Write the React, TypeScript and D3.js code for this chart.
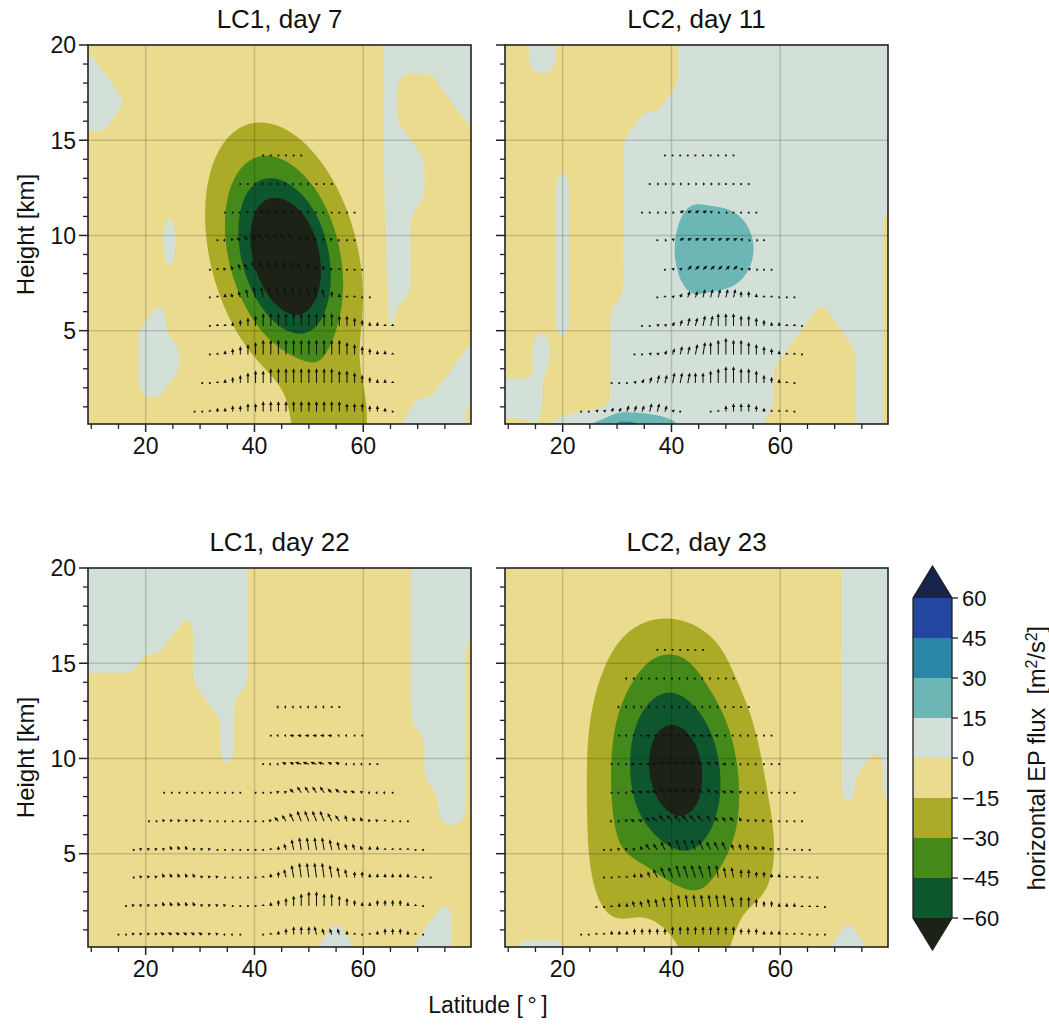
import React, { useMemo } from "react";
import * as d3 from "d3";

// colour levels of the horizontal EP flux [m2/s2]
const levels = [-60, -45, -30, -15, 0, 15, 30, 45, 60];
const fills = ["#1c2316", "#0e572e", "#45891b", "#acab28", "#ebdb8f", "#d2e0d8", "#6cb7b5", "#2a87a8", "#2346a0", "#16234b"];
const cbarTicks = [60, 45, 30, 15, 0, -15, -30, -45, -60];

const xTicks = [20, 40, 60];
const xMinor = [10, 15, 25, 30, 35, 45, 50, 55, 65, 70, 75];
const yTicks = [5, 10, 15, 20];
const yMinor = [1, 2, 3, 4, 6, 7, 8, 9, 11, 12, 13, 14, 16, 17, 18, 19];
const xGrid = [20, 40, 60];
const yGrid = [5, 10, 15];

// weak background sign field: "." slightly negative, "+" slightly positive
// columns 10..80 deg every 2.5 deg, rows 20 km down to 0 km
const lc1d7Grid = [
  ".........." + ".........." + "..+++++++",
  "+........." + ".........." + "..+++++++",
  "++........" + ".........." + "..+...+++",
  "+++......." + ".........." + "..+....++",
  "++........" + ".........." + "..+.....+",
  ".........." + ".........." + "..++.....",
  ".........." + ".........." + "..+++....",
  ".........." + ".........." + "..+++....",
  ".........." + ".........." + "..+++....",
  ".........." + ".........." + "..++....+",
  ".........." + ".........." + "..++.....",
  ".........." + ".........." + "..++.....",
  ".........." + ".........." + "..++.....",
  ".........." + ".........." + "..++.....",
  ".....+...." + ".........." + "..+......",
  "....++...." + ".........." + "..+......",
  "....+++..." + ".........." + "........+",
  "....+++..." + ".........." + ".......++",
  "....++...." + ".........." + "......+++",
  ".........." + ".........." + "....++++.",
  ".........." + ".........." + "...+++++.",
];
const lc2d11Grid = [
  "..++.........+++++++" + "+++++++++",
  "..++.........+++++++" + "+++++++++",
  ".............+++++++" + "+++++++++",
  "............++++++++" + "++++++++.",
  "..........++++++++++" + "+++++++++",
  ".........+++++++++++" + "+++++++++",
  ".........+++++++++++" + "+++++++++",
  "....+....+++++++++++" + "+++++++++",
  "....+....+++++++++++" + "+++++++++",
  "....+....+++++++++++" + "++++++++.",
  "....+....+++++++++++" + "++++++++.",
  "....+....+++++++++++" + "++++++++.",
  "....+....+++++++++++" + "++++++++.",
  "....+....+++++++++++" + "++++++++.",
  "....+...++++++++++++" + "+++.++++.",
  "....+...++++++++++++" + "++...+++.",
  "........++++++++++++" + "+.....++.",
  "........++++++++++++" + "......++.",
  "+++.....++++++++++++" + "......++.",
  "+++.....++++++++++++" + "......++.",
  "........+++++++++++." + "......++.",
];
const lc1d22Grid = [
  "++++++++++++........" + "....+++++",
  "++++++++++++........" + "....+++++",
  "++++++++++++........" + "....+++++",
  "+++++++.++++........" + "....+++++",
  "++++++..++++........" + "....++++.",
  "++++....++++........" + "....++++.",
  "........++++........" + "....++++.",
  ".........++........." + "....++++.",
  "..........+........." + "....++++.",
  "..........+........." + ".....+++.",
  "..........+........." + ".....+++.",
  "...................." + ".....+++.",
  "...................." + "......++.",
  "...................." + "......++.",
  "...................." + ".........",
  "...................." + ".........",
  "...................." + ".........",
  "...................." + ".........",
  "...................." + "......+..",
  "..................+." + ".....++..",
  ".................+++" + "....+++..",
];
const lc2d23Grid = [
  "...................." + ".....++++",
  "...................." + ".....++++",
  "...................." + ".....++++",
  "...................." + ".....++++",
  "...................." + ".....++++",
  "...................." + ".....++++",
  "...................." + ".....++++",
  "...................." + ".....++++",
  "...................." + ".....++++",
  "...................." + ".....++++",
  "...................." + ".....++.+",
  "...................." + ".....+..+",
  "...................." + ".....+..+",
  "...................." + ".........",
  "...................." + ".........",
  "...................." + ".........",
  "...................." + ".........",
  "...................." + ".........",
  "...................." + ".........",
  "...................." + ".....+...",
  ".++++..............." + "....+++..",
];

// strong features: [lat, height km, peak value, lat width, height width, tilt]
const lc1d7Blobs = [
  [45.4, 9.0, -80, 7.1, 3.4, -0.3],
  [48.5, 8.6, -10, 3.0, 1.8, 0],
  [54.0, 0.0, -22, 5.0, 2.2, 0],
  [24.4, 9.7, 12, 0.9, 1.0, 0],
];
const lc2d11Blobs = [
  [48.5, 9.3, 19, 5.8, 1.9, 0],
  [43.5, 9.2, 6, 2.2, 2.2, 0],
  [31.0, 0.0, 28, 7.0, 0.5, 0],
  [16.0, 3.8, 12, 1.2, 0.8, 0],
];
const lc1d22Blobs: number[][] = [];
const lc2d23Blobs = [
  [40.8, 9.5, -65, 8.2, 3.9, -0.15],
  [46.5, 0.0, -10, 4.0, 2.0, 0],
  [43.5, 3.5, -6, 8.0, 2.5, 0],
  [29.0, 4.5, -11, 4.0, 3.0, 0],
  [57.0, 4.5, -6, 3.5, 2.5, 0],
  [41.0, 15.5, -5, 6.0, 1.2, 0],
];

// EP flux arrows per model level: [height km, first lat index, vertical, horizontal]
// lat index k -> 9.4 + 1.4 k deg; v digits up, u: c b a = left 3 2 1, 1 2 3 = right
const lc1d7Arrows: [number, number, string, string][] = [
  [0.75, 14, "001223344555555555554443320", ""],
  [2.25, 15, "00123456677777777766543221", ""],
  [3.75, 16, "0123456777777777776543221", ""],
  [5.25, 16, "0112345666666666655432211", ""],
  [6.75, 16, "0122345555555554321100", "000aaaaaaaaaaaaa000000"],
  [8.2, 16, "011233444444332211000", "00aaabbbbbbbbaaaa0000"],
  [9.75, 17, "0011223333322111000", "0aabbbcccccbbbaaa00"],
  [11.2, 18, "000111111111000000", "00aaabbbbbaaaa0000"],
  [12.7, 20, "0000000000000", "00aaaaaaaa000"],
  [14.2, 23, "000000", "000000"],
];
const lc2d11Arrows: [number, number, string, string][] = [
  [0.75, 10, "00112233344310   013444321110", "00111111111110000"],
  [2.25, 14, "0001234455555678877643210", "00011111111"],
  [3.75, 17, "00112344566787765432110", "0011111111"],
  [5.25, 18, "0011234455666554322110", "0011111111"],
  [6.75, 20, "0112334444433211000", "00111111111"],
  [8.2, 21, "011222222211000", "011222222211100"],
  [9.75, 20, "001111111111000", "011222222221110"],
  [11.2, 18, "0000011111000000", "0011122221110000"],
  [12.7, 19, "00000000000000", "01111111110000"],
  [14.2, 21, "0000000000", ""],
];
const lc1d22Arrows: [number, number, string, string][] = [
  [0.75, 4, "00111111111111000  0123444433321012333210", "00aaaabbbbbbaaaa0000000000aaaa"],
  [2.25, 5, "0111122222111100001234567766543223333210", "0aaaaaaaaaaaaa"],
  [3.75, 6, "0111222221110000012346777765433222222100", "0aaaaaaaaaaa00000000aaaaaaaaa0"],
  [5.2, 6, "011112221110000000123566665433222111100", "0aaaaaaaaaa000000000aaaaaaaaaaa"],
  [6.7, 8, "00111111000000001234555543322111000", "00aaaaaa00000000abbbbbbbbbaaaaa"],
  [8.2, 10, "00000000000 0001123333221110000", "000000000000000aabbbbbbbbbaaaa"],
  [9.7, 23, "0001111111100000", "0aabbccccbbaaa00"],
  [11.2, 24, "0000000000000", "0aabbbbbbaa00"],
  [12.7, 25, "000000000", "aaaaaaa00"],
];
const lc2d23Arrows: [number, number, string, string][] = [
  [0.75, 10, "001122233333444444444333222111000", ""],
  [2.2, 12, "0012233445566666665554332221110", "00000aaaaaaaaaaaaaa"],
  [3.75, 13, "00112234556666665544332211100", "00000aabbbbbbbaaaa"],
  [5.2, 13, "0011123344555544433322111000", "0aaaaabbbbbbbbbbbaaaaaaa"],
  [6.7, 14, "00111223333333222211100000", "aaabbbcccccccbbbbaaaaa"],
  [8.2, 14, "0001111222222211110000000", "0aabbbcccccccbbbbaaaa"],
  [9.7, 14, "00000001111111100000000", "0aabbbcccccccbbbaaaa"],
  [11.2, 15, "000000000000000000000", "0aaabbbbbbbbbbaaaa"],
  [12.7, 15, "000000000000000000", "aaaaaaaaaaaaaaa"],
  [14.2, 16, "000000000000000", "aaaaaaaaaaaa"],
  [15.7, 20, "0000000", ""],
];

const latDomain = [9.4, 79.8];
const zDomain = [0.1, 20];
const W = 383;
const H = 379;
const NX = 192;
const NY = 190;
const uCode: Record<string, number> = { c: -3, b: -2, a: -1, "0": 0, "1": 1, "2": 2, "3": 3 };
const ARROW_PX = 2.1;
const FONT = "Liberation Sans, Arial, Helvetica, sans-serif";

function buildField(grid: string[], blobs: number[][]) {
  const rows = grid.length;
  const cols = grid[0].length;
  const cell = (r: number, c: number) => {
    const rr = Math.max(0, Math.min(rows - 1, r));
    const cc = Math.max(0, Math.min(cols - 1, c));
    return grid[rr][cc] === "+" ? 5 : -5;
  };
  const data = new Float64Array(NX * NY);
  const lat = (i: number) => latDomain[0] + ((i + 0.5) * (latDomain[1] - latDomain[0])) / NX;
  const hgt = (j: number) => zDomain[1] - ((j + 0.5) * (zDomain[1] - zDomain[0])) / NY;
  for (let j = 0; j < NY; j++) {
    const gy = 20 - hgt(j);
    const r0 = Math.floor(gy), fy = gy - r0;
    for (let i = 0; i < NX; i++) {
      const gx = (lat(i) - 10) / 2.5;
      const c0 = Math.floor(gx), fx = gx - c0;
      data[j * NX + i] =
        (1 - fy) * ((1 - fx) * cell(r0, c0) + fx * cell(r0, c0 + 1)) +
        fy * ((1 - fx) * cell(r0 + 1, c0) + fx * cell(r0 + 1, c0 + 1));
    }
  }
  d3.blur2({ data, width: NX, height: NY }, 2, 3);
  for (let j = 0; j < NY; j++) {
    for (let i = 0; i < NX; i++) {
      let v = 0;
      for (const [la, zz, amp, sx, sz, rho] of blobs) {
        const dx = (lat(i) - la) / sx;
        const dz = (hgt(j) - zz) / sz;
        const q = (dx * dx - 2 * rho * dx * dz + dz * dz) / (1 - rho * rho);
        v += amp * Math.exp(-q / 2);
      }
      data[j * NX + i] += v;
    }
  }
  return Array.from(data);
}

function Arrow({ x, y, u, v }: { x: number; y: number; u: number; v: number }) {
  const dx = u * ARROW_PX;
  const dy = -v * ARROW_PX;
  const len = Math.hypot(dx, dy);
  if (len === 0) return <rect x={x - 0.9} y={y - 0.9} width={1.8} height={1.8} fill="#111" />;
  const ang = (Math.atan2(dy, dx) * 180) / Math.PI;
  const hl = Math.min(3.8, len);
  const hw = 1.7;
  return (
    <g transform={`translate(${x},${y}) rotate(${ang})`}>
      {len > hl && <line x1={0} y1={0} x2={len - hl + 0.5} y2={0} stroke="#111" strokeWidth={1.05} />}
      <path d={`M${len},0L${len - hl},${-hw}L${len - hl},${hw}Z`} fill="#111" />
    </g>
  );
}

function Panel(props: any) {
  const { x0, y0, title, grid, blobs, arrows, yLabels, id } = props;
  const xs = d3.scaleLinear().domain(latDomain).range([x0, x0 + W]);
  const ys = d3.scaleLinear().domain(zDomain).range([y0 + H, y0]);
  const bands = useMemo(() => {
    const field = buildField(grid, blobs);
    return d3.contours().size([NX, NY]).thresholds(levels)(field);
  }, [grid, blobs]);
  const path = d3.geoPath();

  return (
    <g>
      <defs>
        <clipPath id={id}>
          <rect x={x0} y={y0} width={W} height={H} />
        </clipPath>
      </defs>
      <g clipPath={`url(#${id})`}>
        <rect x={x0} y={y0} width={W} height={H} fill={fills[0]} />
        <g transform={`translate(${x0},${y0}) scale(${W / NX},${H / NY})`}>
          {bands.map((b, i) => (
            <path key={i} d={path(b as any) || ""} fill={fills[i + 1]} />
          ))}
        </g>
        {xGrid.map((g) => (
          <line key={"gx" + g} x1={xs(g)} x2={xs(g)} y1={y0} y2={y0 + H} stroke="#000" strokeOpacity={0.16} strokeWidth={1.5} />
        ))}
        {yGrid.map((g) => (
          <line key={"gy" + g} x1={x0} x2={x0 + W} y1={ys(g)} y2={ys(g)} stroke="#000" strokeOpacity={0.16} strokeWidth={1.5} />
        ))}
        {arrows.map(([z, k0, vs, us]: [number, number, string, string], r: number) =>
          vs.split("").map((ch, n) => {
            if (ch === " ") return null;
            const lat = 9.4 + 1.4 * (k0 + n);
            const u = uCode[us[n] || "0"] || 0;
            return <Arrow key={r + "-" + n} x={xs(lat)} y={ys(z)} u={u} v={+ch} />;
          })
        )}
      </g>
      <rect x={x0} y={y0} width={W} height={H} fill="none" stroke="#222" strokeWidth={1.6} />
      {xMinor.map((t) => (
        <line key={"xm" + t} x1={xs(t)} x2={xs(t)} y1={y0 + H} y2={y0 + H + 5} stroke="#222" strokeWidth={1.3} />
      ))}
      {xTicks.map((t) => (
        <g key={"xt" + t}>
          <line x1={xs(t)} x2={xs(t)} y1={y0 + H} y2={y0 + H + 8} stroke="#222" strokeWidth={1.5} />
          <text x={xs(t)} y={y0 + H + 30} textAnchor="middle" fontSize={23} fill="#111">
            {t}
          </text>
        </g>
      ))}
      {yMinor.map((t) => (
        <line key={"ym" + t} x1={x0 - 5} x2={x0} y1={ys(t)} y2={ys(t)} stroke="#222" strokeWidth={1.3} />
      ))}
      {yTicks.map((t) => (
        <g key={"yt" + t}>
          <line x1={x0 - 9} x2={x0} y1={ys(t)} y2={ys(t)} stroke="#222" strokeWidth={1.5} />
          {yLabels && (
            <text x={x0 - 12} y={ys(t)} dy="0.36em" textAnchor="end" fontSize={23} fill="#111">
              {t}
            </text>
          )}
        </g>
      ))}
      <text x={x0 + W / 2} y={y0 - 17} textAnchor="middle" fontSize={26} fill="#111">
        {title}
      </text>
    </g>
  );
}

function Colorbar() {
  const x0 = 913;
  const w = 39;
  const cs = d3.scaleLinear().domain([-60, 60]).range([918, 598]);
  const tip = 32;
  const cx = x0 + w / 2;
  const outline = `M${x0},${cs(60)}L${cx},${cs(60) - tip}L${x0 + w},${cs(60)}L${x0 + w},${cs(-60)}L${cx},${cs(-60) + tip}L${x0},${cs(-60)}Z`;
  return (
    <g>
      <path d={`M${x0},${cs(-60)}L${cx},${cs(-60) + tip}L${x0 + w},${cs(-60)}Z`} fill={fills[0]} />
      {levels.slice(0, -1).map((l, i) => (
        <rect key={l} x={x0} y={cs(levels[i + 1])} width={w} height={cs(l) - cs(levels[i + 1])} fill={fills[i + 1]} />
      ))}
      <path d={`M${x0},${cs(60)}L${cx},${cs(60) - tip}L${x0 + w},${cs(60)}Z`} fill={fills[9]} />
      <path d={outline} fill="none" stroke="#222" strokeWidth={1.3} />
      {cbarTicks.map((t) => (
        <g key={t}>
          <line x1={x0 + w} x2={x0 + w + 6} y1={cs(t)} y2={cs(t)} stroke="#222" strokeWidth={1.3} />
          <text x={x0 + w + 10} y={cs(t)} dy="0.36em" fontSize={22} fill="#111">
            {t < 0 ? "\u2212" + Math.abs(t) : t}
          </text>
        </g>
      ))}
      <text transform={`translate(1037,${(cs(60) + cs(-60)) / 2}) rotate(-90)`} textAnchor="middle" dy="0.36em" fontSize={23.5} fill="#111">
        horizontal EP flux{"\u00a0\u00a0"}[m<tspan dy="-8" fontSize={16}>2</tspan>
        <tspan dy="8">/s</tspan>
        <tspan dy="-8" fontSize={16}>2</tspan>
        <tspan dy="8">]</tspan>
      </text>
    </g>
  );
}

export default function App() {
  return (
    <svg width={1049} height={1025} style={{ position: "absolute", left: 0, top: 0, background: "#fff" }} fontFamily={FONT}>
      <Panel id="p1" x0={88} y0={45} title="LC1, day 7" grid={lc1d7Grid} blobs={lc1d7Blobs} arrows={lc1d7Arrows} yLabels />
      <Panel id="p2" x0={505} y0={45} title="LC2, day 11" grid={lc2d11Grid} blobs={lc2d11Blobs} arrows={lc2d11Arrows} yLabels={false} />
      <Panel id="p3" x0={88} y0={568} title="LC1, day 22" grid={lc1d22Grid} blobs={lc1d22Blobs} arrows={lc1d22Arrows} yLabels />
      <Panel id="p4" x0={505} y0={568} title="LC2, day 23" grid={lc2d23Grid} blobs={lc2d23Blobs} arrows={lc2d23Arrows} yLabels={false} />
      <text transform="translate(25,234.5) rotate(-90)" textAnchor="middle" dy="0.36em" fontSize={24} fill="#111">
        Height [km]
      </text>
      <text transform="translate(25,757.5) rotate(-90)" textAnchor="middle" dy="0.36em" fontSize={24} fill="#111">
        Height [km]
      </text>
      <text x={488} y={1013} textAnchor="middle" fontSize={23} fill="#111">
        Latitude [{"\u2009"}°{"\u2009"}]
      </text>
      <Colorbar />
    </svg>
  );
}
